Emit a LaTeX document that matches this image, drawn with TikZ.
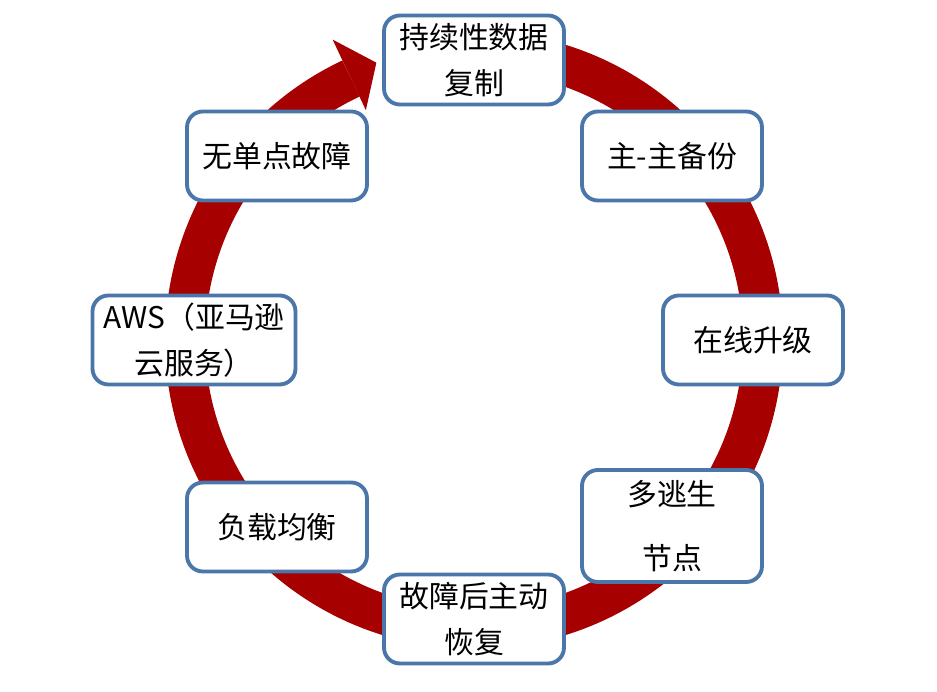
\documentclass[tikz,border=0pt]{standalone}
\usepackage{fontspec}
\newfontfamily\cjk{Noto Sans CJK SC}
\definecolor{ringred}{RGB}{166,0,0}
\definecolor{boxblue}{RGB}{74,118,170}
\begin{document}
\begin{tikzpicture}[x=0.02cm,y=0.02cm,
 bx/.style={draw=boxblue,line width=2.2pt,fill=white,rounded corners=9pt,
  minimum width=3.6cm,minimum height=1.78cm,align=center,inner sep=1pt,
  font=\cjk\fontsize{17}{26}\selectfont},
 bxtall/.style={bx,minimum height=2.24cm},
 bxwide/.style={bx,minimum width=4.06cm},
 ]
\useasboundingbox (0,0) rectangle (937,692);
\coordinate (c) at (474,352);
%Ring
\draw[ringred,line width=0.8cm] ([shift={(85:289)}]c) arc[start angle=85,end angle=-244.8,radius=5.78cm];
\fill[ringred] ([shift={(115.2:332)}]c) -- ([shift={(109.4:294)}]c) -- ([shift={(115.2:254)}]c) -- cycle;

\node[bx] (dat) at (474,632) {持续性数据\\复制};
\node[bx] (mm) at (672,536) {主-主备份};
\node[bx] (upg) at (753,352) {在线升级};
\node[bxtall] (esc) at (672,166) {多逃生\\[10pt]节点};
\node[bx] (rec) at (474,73) {故障后主动\\恢复};
\node[bx] (lb) at (277,165) {负载均衡};
\node[bxwide] (aws) at (194,352) {AWS（亚马逊\\云服务）};
\node[bx] (spof) at (277,536) {无单点故障};
\end{tikzpicture}
\end{document}
